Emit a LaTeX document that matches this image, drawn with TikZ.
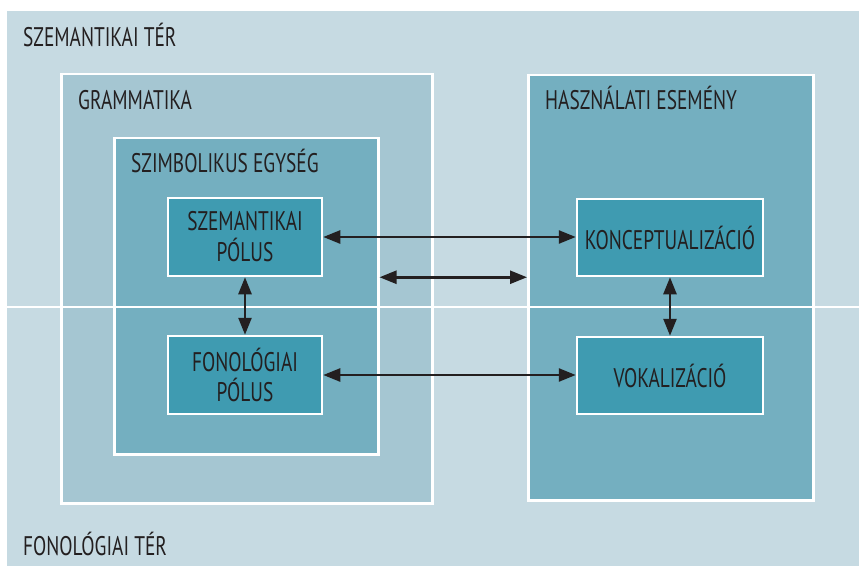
\documentclass[tikz,border=0pt]{standalone}
\usepackage{fontspec}
\setmainfont{PT Sans}[FakeStretch=0.72]
\usetikzlibrary{arrows.meta}
\definecolor{bgouter}{HTML}{C6DAE2}
\definecolor{bggram}{HTML}{A5C6D2}
\definecolor{bgmid}{HTML}{74AFC0}
\definecolor{bgpole}{HTML}{3F9BB1}
\definecolor{ink}{HTML}{231F20}
\tikzset{
  grp/.style={draw=white, line width=2.5bp, inner sep=0pt, anchor=north west},
  pole/.style={draw=white, line width=2.5bp, fill=bgpole, inner sep=0pt, text=ink,
    align=center, font=\fontsize{27}{31}\selectfont},
  lbl/.style={anchor=base west, inner sep=0pt, text=ink, font=\fontsize{27}{30}\selectfont},
  conn/.style={draw=ink, line width=2.5bp, {Triangle[length=17bp,width=13bp]}-{Triangle[length=17bp,width=13bp]}}
}
\begin{document}
\begin{tikzpicture}[x=1bp,y=-1bp]
\useasboundingbox (0,0) rectangle (859,566);
\fill[bgouter] (7,11) rectangle (859,566);
\node[grp, fill=bggram, minimum width=371bp, minimum height=429bp] (gram) at (60,73) {};
\node[grp, fill=bgmid, minimum width=264bp, minimum height=316bp] (szimb) at (113,137) {};
\node[grp, fill=bgmid, minimum width=285bp, minimum height=425bp] (hasz) at (527,74) {};
\draw[white, line width=2bp] (7,307) -- (859,307);
\node[pole, minimum width=154bp, minimum height=78bp] (szp) at (245,237) {SZEMANTIKAI\\PÓLUS};
\node[pole, minimum width=154bp, minimum height=78bp] (fonp) at (245,375) {FONOLÓGIAI\\PÓLUS};
\node[pole, minimum width=186bp, minimum height=77bp] (konc) at (670,237.5) {KONCEPTUALIZÁCIÓ};
\node[pole, minimum width=186bp, minimum height=77bp] (vok) at (670,375.5) {VOKALIZÁCIÓ};
\node[lbl] (tsz) at (23,47) {SZEMANTIKAI TÉR};
\node[lbl] (tgram) at (78,110) {GRAMMATIKA};
\node[lbl] (tszimb) at (131,173) {SZIMBOLIKUS EGYSÉG};
\node[lbl] (thasz) at (545,110) {HASZNÁLATI ESEMÉNY};
\node[lbl] (tfon) at (23,555) {FONOLÓGIAI TÉR};
\draw[conn] (szp.east) -- (konc.west |- szp.east);
\draw[conn] (szimb.east |- szp.south) -- (hasz.west |- szp.south);
\draw[conn] (fonp.east) -- (vok.west |- fonp.east);
\draw[conn] (szp.south) -- (fonp.north);
\draw[conn] (konc.south) -- (vok.north);
\end{tikzpicture}
\end{document}
